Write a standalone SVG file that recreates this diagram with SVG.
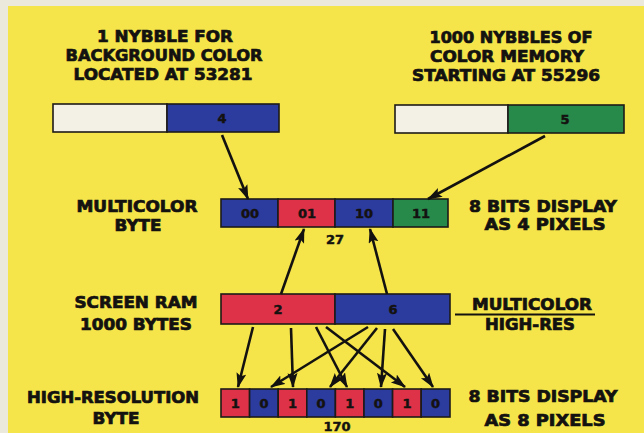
<svg xmlns="http://www.w3.org/2000/svg" width="644" height="433" viewBox="0 0 644 433">
<style>
.t{font-family:"DejaVu Sans","Roboto",sans-serif;font-weight:bold;fill:#141210;stroke:#141210;stroke-width:0.7;text-anchor:middle;font-size:15px}
.d{font-family:"DejaVu Sans","Roboto",sans-serif;font-weight:bold;fill:#141210;stroke:#141210;stroke-width:0.5;text-anchor:middle;font-size:13px}
.bx{stroke:#1d1b18;stroke-width:1.6}
.w{fill:#f3f1e6}.b{fill:#2c3b9e}.r{fill:#dd3248}.g{fill:#27894a}
.c line{stroke:#141210;stroke-width:2.6;marker-end:url(#ah)}
</style>
<defs>
<marker id="ah" markerUnits="userSpaceOnUse" markerWidth="16" markerHeight="12" refX="14" refY="5" orient="auto">
<path d="M0,0 L15,5 L0,10 L3,5 z" fill="#141210"/>
</marker>
</defs>
<rect x="0" y="0" width="644" height="433" fill="#ebe8dc"/>
<rect x="8" y="6" width="636" height="427" fill="#f5e54a"/>

<g id="title-bg">
<text class="t" x="165" y="42" textLength="136" lengthAdjust="spacingAndGlyphs">1 NYBBLE FOR</text>
<text class="t" x="164" y="61" textLength="197" lengthAdjust="spacingAndGlyphs">BACKGROUND COLOR</text>
<text class="t" x="163" y="80" textLength="179" lengthAdjust="spacingAndGlyphs">LOCATED AT 53281</text>
</g>
<g id="title-color">
<text class="t" x="511" y="43" textLength="163" lengthAdjust="spacingAndGlyphs">1000 NYBBLES OF</text>
<text class="t" x="507" y="62" textLength="154" lengthAdjust="spacingAndGlyphs">COLOR MEMORY</text>
<text class="t" x="506" y="81" textLength="188" lengthAdjust="spacingAndGlyphs">STARTING AT 55296</text>
</g>

<g id="bg-nybble">
<rect class="bx w" x="53" y="104" width="114" height="28"/>
<rect class="bx b" x="167" y="104" width="112" height="28"/>
<text class="d" x="222" y="123">4</text>
</g>
<g id="color-nybble">
<rect class="bx w" x="395" y="105" width="113" height="28"/>
<rect class="bx g" x="508" y="105" width="116" height="28"/>
<text class="d" x="565" y="124">5</text>
</g>

<g id="multicolor-byte">
<rect class="bx b" x="221" y="199" width="57" height="28"/>
<rect class="bx r" x="278" y="199" width="57" height="28"/>
<rect class="bx b" x="335" y="199" width="58" height="28"/>
<rect class="bx g" x="393" y="199" width="55" height="28"/>
<text class="d" x="250" y="218">00</text>
<text class="d" x="307" y="218">01</text>
<text class="d" x="364" y="218">10</text>
<text class="d" x="421" y="218">11</text>
<text class="d" x="335" y="244">27</text>
</g>
<g id="multicolor-label">
<text class="t" x="137" y="212" textLength="121" lengthAdjust="spacingAndGlyphs">MULTICOLOR</text>
<text class="t" x="138" y="231" textLength="47" lengthAdjust="spacingAndGlyphs">BYTE</text>
</g>
<g id="multicolor-note">
<text class="t" x="543" y="212" textLength="148" lengthAdjust="spacingAndGlyphs">8 BITS DISPLAY</text>
<text class="t" x="545" y="230" textLength="121" lengthAdjust="spacingAndGlyphs">AS 4 PIXELS</text>
</g>

<g id="screen-ram">
<rect class="bx r" x="221" y="294" width="114" height="30"/>
<rect class="bx b" x="335" y="294" width="115" height="30"/>
<text class="d" x="278" y="314">2</text>
<text class="d" x="393" y="314">6</text>
</g>
<g id="screen-ram-label">
<text class="t" x="136" y="308" textLength="123" lengthAdjust="spacingAndGlyphs">SCREEN RAM</text>
<text class="t" x="136" y="330" textLength="112" lengthAdjust="spacingAndGlyphs">1000 BYTES</text>
</g>
<g id="mode-label">
<text class="t" x="532" y="310" textLength="120" lengthAdjust="spacingAndGlyphs">MULTICOLOR</text>
<line x1="455" y1="314.5" x2="595" y2="314.5" stroke="#141210" stroke-width="2"/>
<text class="t" x="530" y="330" textLength="90" lengthAdjust="spacingAndGlyphs">HIGH-RES</text>
</g>

<g id="hires-byte">
<rect class="bx r" x="221" y="389" width="28.6" height="28"/>
<rect class="bx b" x="249.6" y="389" width="28.6" height="28"/>
<rect class="bx r" x="278.2" y="389" width="28.6" height="28"/>
<rect class="bx b" x="306.8" y="389" width="28.6" height="28"/>
<rect class="bx r" x="335.4" y="389" width="28.6" height="28"/>
<rect class="bx b" x="364" y="389" width="28.6" height="28"/>
<rect class="bx r" x="392.6" y="389" width="28.6" height="28"/>
<rect class="bx b" x="421.2" y="389" width="28.8" height="28"/>
<text class="d" x="235.3" y="408">1</text>
<text class="d" x="263.9" y="408">0</text>
<text class="d" x="292.5" y="408">1</text>
<text class="d" x="321.1" y="408">0</text>
<text class="d" x="349.7" y="408">1</text>
<text class="d" x="378.3" y="408">0</text>
<text class="d" x="406.9" y="408">1</text>
<text class="d" x="435.6" y="408">0</text>
<text class="d" x="337" y="431">170</text>
</g>
<g id="hires-label">
<text class="t" x="113" y="403" textLength="172" lengthAdjust="spacingAndGlyphs">HIGH-RESOLUTION</text>
<text class="t" x="116" y="424" textLength="47" lengthAdjust="spacingAndGlyphs">BYTE</text>
</g>
<g id="hires-note">
<text class="t" x="543" y="402" textLength="149" lengthAdjust="spacingAndGlyphs">8 BITS DISPLAY</text>
<text class="t" x="545" y="426" textLength="121" lengthAdjust="spacingAndGlyphs">AS 8 PIXELS</text>
</g>

<g id="connectors" class="c">
<line x1="222" y1="135" x2="248" y2="199"/>
<line x1="545" y1="136" x2="428" y2="199"/>
<line x1="281" y1="294" x2="304" y2="229"/>
<line x1="387" y1="294" x2="370" y2="229"/>
<line x1="253" y1="327" x2="238" y2="387"/>
<line x1="291" y1="328" x2="293" y2="387"/>
<line x1="316" y1="327" x2="347" y2="387"/>
<line x1="326" y1="327" x2="405" y2="387"/>
<line x1="368" y1="327" x2="271" y2="387"/>
<line x1="377" y1="328" x2="330" y2="387"/>
<line x1="385" y1="329" x2="381" y2="387"/>
<line x1="393" y1="329" x2="433" y2="387"/>
</g>
</svg>
